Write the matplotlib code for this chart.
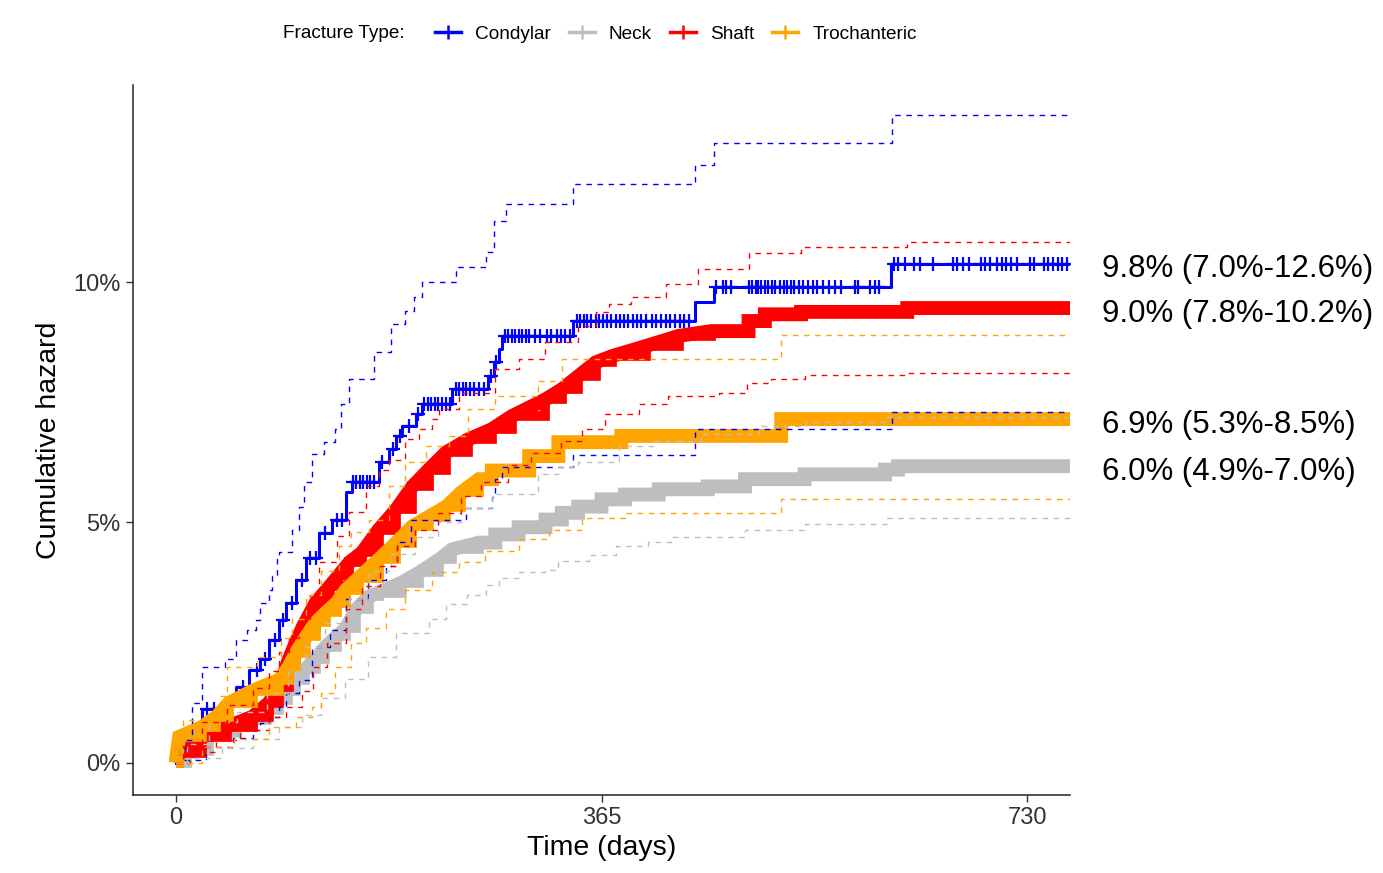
import numpy as np
import matplotlib.pyplot as plt
from matplotlib.lines import Line2D
from matplotlib.ticker import FuncFormatter
from matplotlib.transforms import offset_copy

plt.rcParams['font.family'] = ['Liberation Sans', 'DejaVu Sans']

# ---- data (days, cumulative hazard in %) ----
fracture_types = ['Condylar', 'Neck', 'Shaft', 'Trochanteric']
colors = ['#0000FF', '#BEBEBE', '#FF0000', '#FFA500']
end_labels = ['9.8% (7.0%-12.6%)', '6.0% (4.9%-7.0%)',
              '9.0% (7.8%-10.2%)', '6.9% (5.3%-8.5%)']

condylar_t = [0, 3, 12, 23, 44, 52, 63, 72, 80, 89, 95, 103, 112, 123, 134, 146, 151,
              174, 183, 189, 194, 206, 211, 237, 268, 273, 277, 280, 341, 445, 461, 613]
condylar_est = [0, 0.13, 0.69, 1.12, 1.35, 1.58, 1.94, 2.15, 2.56, 2.98, 3.33, 3.81, 4.25,
                4.79, 5.06, 5.63, 5.85, 6.25, 6.52, 6.79, 7.0, 7.25, 7.46, 7.77, 8.04, 8.33,
                8.6, 8.88, 9.19, 9.58, 9.9, 10.38]
condylar_hi_t = [0, 3, 9, 14, 23, 42, 52, 61, 69, 72, 80, 83, 87, 89, 100, 106, 110, 117,
                 127, 137, 142, 149, 170, 185, 197, 204, 211, 240, 266, 273, 283, 341, 445,
                 461, 614]
condylar_hi = [0, 0.3, 0.48, 1.25, 2.0, 2.15, 2.56, 2.77, 2.98, 3.33, 3.6, 3.88, 4.23, 4.38,
               4.85, 5.33, 5.85, 6.42, 6.67, 6.94, 7.46, 7.98, 8.54, 9.13, 9.4, 9.69, 10.0,
               10.31, 10.63, 11.27, 11.63, 12.04, 12.44, 12.9, 13.48]
condylar_lo_t = [0, 6, 26, 49, 66, 72, 80, 89, 95, 106, 117, 132, 146, 165, 180, 190, 202,
                 249, 271, 274, 280, 341, 445, 614]
condylar_lo = [0, 0.06, 0.33, 0.52, 0.69, 0.83, 0.96, 1.17, 1.46, 1.73, 2.4, 2.77, 3.4, 3.8,
               4.1, 4.6, 5.06, 5.31, 5.52, 5.9, 6.15, 6.4, 6.94, 7.29]
condylar_censor = [5, 10, 18, 27, 33, 40, 58, 70, 77, 85, 92, 100, 108, 115, 120, 128, 138,
                   143, 152, 155, 158, 161, 164, 167, 170, 177, 186, 192, 200, 208, 213, 216,
                   219, 222, 225, 228, 232, 235, 240, 243, 246, 249, 252, 256, 260, 264, 270,
                   275, 282, 285, 288, 291, 294, 297, 300, 303, 308, 312, 318, 322, 327, 330,
                   334, 338, 344, 347, 350, 353, 356, 360, 363, 366, 370, 373, 377, 381, 384,
                   388, 392, 395, 399, 403, 408, 412, 416, 420, 424, 428, 432, 436, 440, 463,
                   469, 472, 476, 491, 494, 497, 499, 502, 505, 508, 511, 514, 518, 521, 524,
                   527, 530, 534, 538, 542, 546, 550, 555, 560, 565, 570, 582, 585, 595, 599,
                   603, 616, 619, 625, 633, 638, 649, 666, 670, 675, 680, 690, 694, 698, 704,
                   708, 712, 716, 721, 732, 736, 744, 748, 752, 756, 760, 764]

neck_t = [0, 10, 29, 53, 66, 78, 89, 96, 103, 111, 120, 128, 138, 146, 155, 166, 174, 194,
          209, 226, 237, 260, 274, 294, 317, 331, 345, 365, 385, 414, 456, 488, 539, 608, 619]
neck_est = [0, 0.25, 0.63, 0.75, 0.9, 1.1, 1.3, 1.5, 1.73, 1.95, 2.15, 2.4, 2.63, 2.8, 3.2,
            3.46, 3.54, 3.75, 3.96, 4.23, 4.44, 4.58, 4.75, 4.9, 5.06, 5.2, 5.33, 5.48, 5.58,
            5.69, 5.75, 5.9, 6.0, 6.1, 6.17]
neck_hi_t = [0, 10, 29, 53, 78, 96, 111, 128, 149, 166, 185, 205, 225, 245, 271, 311, 328,
             345, 380, 410, 450, 500, 540, 610]
neck_hi = [0, 0.4, 0.85, 1.05, 1.45, 1.9, 2.4, 2.9, 3.4, 4.0, 4.35, 4.7, 5.0, 5.3, 5.6, 6.0,
           6.15, 6.25, 6.58, 6.7, 6.85, 7.0, 7.08, 7.2]
neck_lo_t = [0, 15, 40, 66, 89, 108, 125, 145, 165, 189, 217, 232, 250, 266, 277, 294, 317,
             328, 354, 377, 405, 425, 488, 539, 610]
neck_lo = [0, 0.1, 0.3, 0.5, 0.75, 1.0, 1.35, 1.75, 2.2, 2.7, 3.0, 3.3, 3.5, 3.7, 3.85, 3.96,
           4.02, 4.19, 4.33, 4.5, 4.6, 4.7, 4.85, 4.96, 5.1]

shaft_t = [0, 3, 23, 44, 66, 80, 89, 97, 103, 109, 120, 132, 149, 160, 174, 189, 203, 217,
           232, 251, 271, 288, 317, 331, 345, 360, 374, 403, 431, 459, 491, 505, 536, 627]
shaft_est = [0, 0.2, 0.54, 0.75, 0.96, 1.25, 1.58, 2.15, 2.5, 2.83, 3.33, 3.67, 4.17, 4.38,
             4.85, 5.27, 5.75, 6.1, 6.46, 6.73, 6.94, 7.21, 7.56, 7.77, 8.04, 8.33, 8.46, 8.67,
             8.88, 8.98, 9.19, 9.33, 9.38, 9.46]
shaft_hi_t = [0, 6, 23, 44, 66, 80, 89, 97, 106, 115, 123, 138, 149, 163, 174, 183, 197, 209,
              220, 226, 243, 274, 294, 317, 345, 360, 371, 390, 420, 448, 491, 536, 627]
shaft_hi = [0, 0.35, 0.85, 1.2, 1.55, 1.9, 2.3, 2.6, 3.0, 3.5, 4.17, 4.71, 5.21, 5.75, 6.1,
            6.3, 6.73, 6.94, 7.15, 7.35, 7.7, 8.19, 8.4, 8.75, 9.08, 9.38, 9.54, 9.7, 9.95,
            10.27, 10.6, 10.73, 10.83]
shaft_lo_t = [0, 12, 35, 55, 80, 95, 108, 118, 130, 146, 160, 175, 190, 205, 225, 245, 262,
              285, 305, 330, 348, 368, 397, 422, 466, 490, 510, 539, 627]
shaft_lo = [0, 0.23, 0.48, 0.69, 0.96, 1.17, 1.5, 2.0, 2.5, 3.2, 3.67, 4.1, 4.5, 4.85, 5.2,
            5.55, 5.85, 6.2, 6.45, 6.7, 6.94, 7.25, 7.46, 7.63, 7.7, 7.9, 7.98, 8.06, 8.1]

troch_t = [0, 3, 23, 35, 46, 66, 89, 97, 103, 112, 120, 129, 138, 146, 157, 174, 189, 203,
           217, 232, 245, 260, 271, 303, 328, 382, 519]
troch_est = [0, 0.54, 0.75, 0.96, 1.25, 1.5, 1.73, 2.0, 2.29, 2.63, 2.92, 3.13, 3.33, 3.6,
             3.85, 4.23, 4.58, 4.92, 5.12, 5.33, 5.63, 5.9, 6.08, 6.38, 6.67, 6.8, 7.15]
troch_hi_t = [0, 3, 6, 38, 44, 70, 90, 100, 112, 125, 140, 150, 166, 183, 197, 215, 234, 251,
              274, 311, 331, 519]
troch_hi = [0, 0.6, 0.9, 1.38, 2.0, 2.2, 2.6, 3.0, 3.5, 4.0, 4.5, 4.8, 5.06, 5.75, 6.25, 6.6,
            6.8, 7.35, 7.63, 7.94, 8.4, 8.9]
troch_lo_t = [0, 23, 50, 80, 103, 117, 125, 137, 150, 163, 180, 197, 220, 243, 265, 294, 320,
              348, 385, 519]
troch_lo = [0, 0.33, 0.5, 0.75, 0.96, 1.17, 1.46, 2.0, 2.5, 2.8, 3.2, 3.6, 3.96, 4.17, 4.4,
            4.65, 4.85, 5.1, 5.2, 5.48]

series = [
    (condylar_t, condylar_est, condylar_hi_t, condylar_hi, condylar_lo_t, condylar_lo),
    (neck_t, neck_est, neck_hi_t, neck_hi, neck_lo_t, neck_lo),
    (shaft_t, shaft_est, shaft_hi_t, shaft_hi, shaft_lo_t, shaft_lo),
    (troch_t, troch_est, troch_hi_t, troch_hi, troch_lo_t, troch_lo),
]
# in the big groups the many tiny steps blur into a smooth band up to about here
smooth_until = [0, 260, 459, 260]
t_end = 770


def extend(t, v):
    return list(t) + [t_end], list(v) + [v[-1]]


def band_path(t, v, cut):
    # straight segments while the steps are tiny, real steps afterwards
    xs, ys = [t[0]], [v[0]]
    for k in range(1, len(t)):
        if t[k] > cut:
            xs.append(t[k])
            ys.append(v[k - 1])
        xs.append(t[k])
        ys.append(v[k])
    xs.append(t_end)
    ys.append(v[-1])
    return xs, ys


fig = plt.figure(figsize=(13.83, 8.73), dpi=100)
ax = fig.add_axes([133 / 1383, 1 - 795 / 873, (1070 - 133) / 1383, (795 - 85) / 873])

# estimates (dense censoring in the large groups shows as a thick band of '+')
for i, (t, est, *_rest) in enumerate(series):
    if i == 0:
        tt, vv = extend(t, est)
        ax.step(tt, vv, where='post', color=colors[i], lw=2.2, zorder=3)
        idx = np.searchsorted(t, condylar_censor, side='right') - 1
        ax.plot(condylar_censor, np.array(est)[idx], ls='none', marker='+',
                ms=9.5, mew=1.6, color=colors[i], zorder=3)
    else:
        xs, ys = band_path(t, est, smooth_until[i])
        ax.plot(xs, ys, color=colors[i], lw=10, solid_joinstyle='miter',
                solid_capstyle='butt', zorder=2 + i)
        tt, vv = extend(t, est)
        ax.step(tt, vv, where='post', color=colors[i], lw=7,
                solid_joinstyle='miter', solid_capstyle='butt', zorder=2 + i)

# confidence limits
for i, (_t, _e, hi_t, hi, lo_t, lo) in enumerate(series):
    for ct, cv in ((hi_t, hi), (lo_t, lo)):
        tt, vv = extend(ct, cv)
        ax.step(tt, vv, where='post', color=colors[i], lw=1.0,
                ls=(0, (4, 4)), zorder=6)

# end-of-follow-up labels
lab_tr = offset_copy(ax.get_yaxis_transform(), fig=fig, x=0, y=-4, units='points')
for i, (t, est, *_rest) in enumerate(series):
    ax.text(1.034, est[-1], end_labels[i], transform=lab_tr,
            fontsize=22.5, va='center', ha='left', color='black', clip_on=False)

ax.set_xlim(-36.5, 766.5)
ax.set_ylim(-0.67, 14.1)
ax.set_xticks([0, 365, 730])
ax.set_yticks([0, 5, 10])
ax.yaxis.set_major_formatter(FuncFormatter(lambda v, p: f'{v:.0f}%'))
ax.tick_params(labelsize=17, colors='#333333', length=5, width=1, pad=4)
ax.set_xlabel('Time (days)', fontsize=20.5, labelpad=4)
ax.set_ylabel('Cumulative hazard', fontsize=20.5, labelpad=8)
for s in ('top', 'right'):
    ax.spines[s].set_visible(False)
for s in ('left', 'bottom'):
    ax.spines[s].set_linewidth(1.1)
    ax.spines[s].set_color('#222222')

# legend on top
fig.text(283 / 1383, 1 - 34 / 873, 'Fracture Type:', fontsize=13.7, va='center', ha='left')
handles = [Line2D([], [], color=c, lw=2.5, marker='+', ms=10, mew=1.8) for c in colors]
fig.legend(handles, fracture_types, loc='center left', bbox_to_anchor=(435 / 1383, 1 - 34 / 873),
           ncol=4, frameon=False, fontsize=13.7, handlelength=1.35, handletextpad=0.75,
           columnspacing=0.95, borderpad=0, borderaxespad=0)

fig.savefig('out.png', dpi=100)
